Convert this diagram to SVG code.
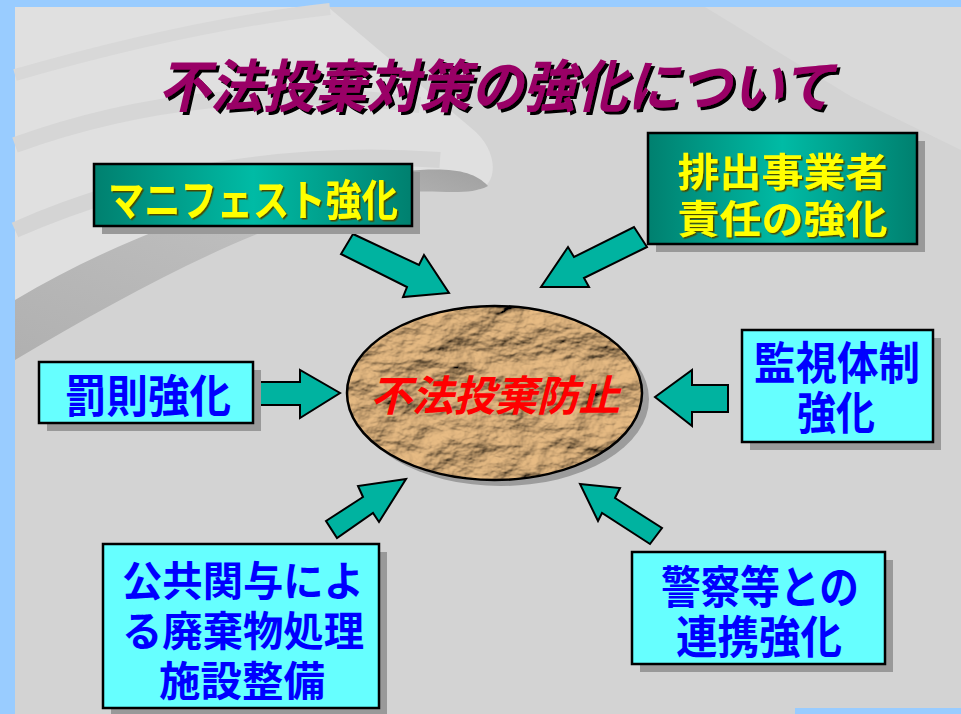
<svg xmlns="http://www.w3.org/2000/svg" width="961" height="714" viewBox="0 0 961 714">
<defs>
<style>
.jp{font-family:"Noto Sans CJK JP","Noto Sans CJK SC",sans-serif;font-weight:bold;text-anchor:middle}
.teal{fill:url(#tealGrad);stroke:#000;stroke-width:2.5}
.cyan{fill:#66ffff;stroke:#000;stroke-width:2.5}
.shadow{fill:#999999}
.ytxt{fill:#ffff00;filter:url(#ysh)}
.btxt{fill:#0000ff}
.arrow{fill:#00b3a0;stroke:#000;stroke-width:2;stroke-linejoin:miter}
</style>
<linearGradient id="tealGrad" x1="0" y1="0" x2="1" y2="0">
<stop offset="0" stop-color="#00806f"/>
<stop offset="0.5" stop-color="#00bba5"/>
<stop offset="1" stop-color="#00806f"/>
</linearGradient>
<linearGradient id="bandGrad" x1="0" y1="1" x2="1" y2="0">
<stop offset="0" stop-color="#b0b0b0"/>
<stop offset="0.7" stop-color="#c0c0c0"/>
<stop offset="1" stop-color="#a0a0a0"/>
</linearGradient>
<filter id="tsh" x="-5%" y="-20%" width="110%" height="140%">
<feDropShadow dx="3" dy="3" stdDeviation="0" flood-color="#000"/>
</filter>
<filter id="ysh" x="-5%" y="-20%" width="110%" height="140%">
<feDropShadow dx="1.5" dy="1.5" stdDeviation="0" flood-color="#4a4a00"/>
</filter>
<filter id="paper" x="0" y="0" width="100%" height="100%">
<feTurbulence type="fractalNoise" baseFrequency="0.022 0.035" numOctaves="5" seed="11" result="n"/>
<feDiffuseLighting in="n" surfaceScale="10" lighting-color="#e8bc84" result="l">
<feDistantLight azimuth="235" elevation="48"/>
</feDiffuseLighting>
<feComposite in="l" in2="SourceGraphic" operator="in"/>
</filter>
</defs>

<!-- background -->
<rect x="0" y="0" width="961" height="714" fill="#99ccff"/>
<rect x="15" y="7" width="946" height="707" fill="#d3d3d3"/>
<path d="M705,7 L961,7 L961,150 L852,97 Z" fill="#d9d9d9"/>
<path d="M15,7 L328,7 L470,127 C500,150 498,185 478,190 C400,165 250,200 15,345 Z" fill="#e0e0e0"/>
<path d="M15,75 C120,45 230,20 330,9" fill="none" stroke="#d8d8d8" stroke-width="12"/>
<path d="M15,145 C140,100 270,85 420,105" fill="none" stroke="#d6d6d6" stroke-width="16"/>
<path d="M15,230 C150,170 300,150 440,160" fill="none" stroke="#d4d4d4" stroke-width="16"/>
<path d="M15,300 C150,220 300,175 420,170 C455,168 475,172 488,186 C470,196 440,190 410,192 C290,205 150,280 15,360 Z" fill="url(#bandGrad)"/>

<!-- title -->
<g id="title">
<text class="jp" x="496" y="107" font-size="57" font-style="italic" textLength="676" lengthAdjust="spacingAndGlyphs" fill="#990066" filter="url(#tsh)">不法投棄対策の強化について</text>
</g>

<!-- connectors -->
<g id="connectors">
<polygon class="arrow" points="353,234 419,265 424,255 449,293 403,297 407,287 341,254"/>
<polygon class="arrow" points="634,227 647,247 584,278 589,287 541,287 568,247 574,257"/>
<polygon class="arrow" points="260,382 300,382 300,370 340,393 300,418 300,405 260,405"/>
<polygon class="arrow" points="728,385 692,385 692,370 655,397 692,426 692,412 728,412"/>
<polygon class="arrow" points="406,479 358,486 363,497 326,521 337,538 373,513 379,522"/>
<polygon class="arrow" points="580,484 620,488 615,498 662,528 650,544 602,513 598,521"/>
</g>

<!-- center node -->
<g id="center">
<ellipse cx="501" cy="399" rx="148" ry="87" fill="#9c9c9c"/>
<ellipse cx="494.5" cy="393" rx="147.5" ry="87" fill="#a88860"/>
<ellipse cx="494.5" cy="393" rx="147.5" ry="87" fill="#fff" filter="url(#paper)"/>
<ellipse cx="494.5" cy="393" rx="147.5" ry="87" fill="none" stroke="#000" stroke-width="2.5"/>
<text class="jp" x="495" y="411" font-size="42" font-style="italic" textLength="250" lengthAdjust="spacingAndGlyphs" fill="#ff0000">不法投棄防止</text>
</g>

<g id="manifest">
<rect class="shadow" x="102" y="172" width="318" height="62"/>
<rect class="teal" x="94" y="164" width="318" height="62"/>
<text class="jp ytxt" x="253" y="216" font-size="43" textLength="290" lengthAdjust="spacingAndGlyphs">マニフェスト強化</text>
</g>

<g id="haishutsu">
<rect class="shadow" x="656" y="141" width="269" height="111"/>
<rect class="teal" x="648" y="133" width="269" height="111"/>
<text class="jp ytxt" x="782.5" y="186" font-size="39" textLength="210" lengthAdjust="spacingAndGlyphs">排出事業者</text>
<text class="jp ytxt" x="782.5" y="233" font-size="39" textLength="210" lengthAdjust="spacingAndGlyphs">責任の強化</text>
</g>

<g id="bassoku">
<rect class="shadow" x="47" y="370" width="214" height="61"/>
<rect class="cyan" x="39" y="362" width="214" height="61"/>
<text class="jp btxt" x="148" y="413" font-size="45" textLength="166" lengthAdjust="spacingAndGlyphs">罰則強化</text>
</g>

<g id="kanshi">
<rect class="shadow" x="750" y="338" width="191" height="112"/>
<rect class="cyan" x="742" y="330" width="191" height="112"/>
<text class="jp btxt" x="837" y="380" font-size="45" textLength="166" lengthAdjust="spacingAndGlyphs">監視体制</text>
<text class="jp btxt" x="836" y="430" font-size="45" textLength="78" lengthAdjust="spacingAndGlyphs">強化</text>
</g>

<g id="kokyo">
<rect class="shadow" x="111" y="552" width="276" height="164"/>
<rect class="cyan" x="103" y="544" width="276" height="164"/>
<text class="jp btxt" x="243" y="596" font-size="41" textLength="242" lengthAdjust="spacingAndGlyphs">公共関与によ</text>
<text class="jp btxt" x="243" y="646" font-size="41" textLength="242" lengthAdjust="spacingAndGlyphs">る廃棄物処理</text>
<text class="jp btxt" x="242" y="696" font-size="41" textLength="166" lengthAdjust="spacingAndGlyphs">施設整備</text>
</g>

<g id="keisatsu">
<rect class="shadow" x="640" y="560" width="253" height="112"/>
<rect class="cyan" x="632" y="552" width="253" height="112"/>
<text class="jp btxt" x="760" y="604" font-size="45" textLength="198" lengthAdjust="spacingAndGlyphs">警察等との</text>
<text class="jp btxt" x="759" y="654" font-size="45" textLength="166" lengthAdjust="spacingAndGlyphs">連携強化</text>
</g>

<rect x="795" y="708" width="166" height="6" fill="#99ccff"/>
</svg>
